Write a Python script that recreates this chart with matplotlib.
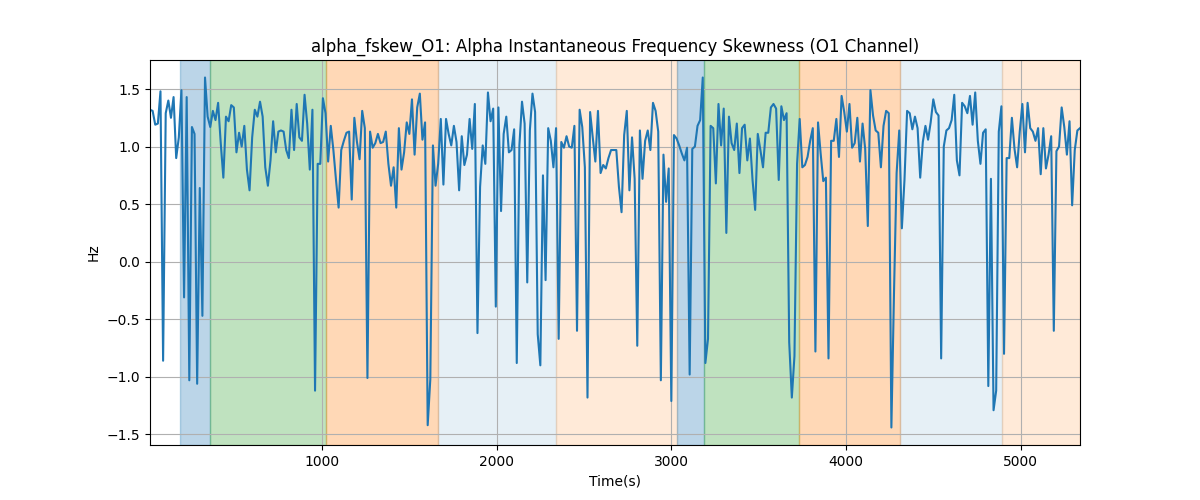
import matplotlib
matplotlib.use("Agg")
import matplotlib.pyplot as plt
import numpy as np

# sampling of the skewness series (seconds)
t_start = 15
t_step = 15

fskew = [
    1.32, 1.31, 1.19, 1.20, 1.48, -0.86, 1.29, 1.40, 1.25, 1.43,
    0.90, 1.08, 1.49, -0.31, 1.43, -1.03, 1.17, 1.11, -1.06, 0.64,
    -0.47, 1.60, 1.26, 1.17, 1.31, 1.23, 1.38, 1.03, 0.73, 1.26,
    1.22, 1.36, 1.34, 0.95, 1.12, 1.00, 1.18, 0.80, 0.62, 1.08,
    1.32, 1.26, 1.39, 1.26, 0.82, 0.66, 0.88, 1.22, 0.95, 1.13,
    1.14, 1.13, 0.97, 0.90, 1.32, 0.97, 1.37, 1.08, 1.05, 1.45,
    1.20, 0.80, 1.32, -1.12, 0.85, 0.85, 1.42, 1.29, 0.87, 1.18,
    0.97, 0.71, 0.47, 0.97, 1.05, 1.12, 1.13, 0.54, 1.25, 1.04,
    0.89, 1.31, 1.16, -1.01, 1.13, 0.99, 1.03, 1.11, 1.03, 1.04,
    1.13, 0.85, 0.66, 0.82, 0.47, 1.16,
    0.80, 0.95, 1.21, 1.11, 1.41, 0.93, 1.34, 1.46, 1.06,
    1.21, -1.42, -1.02, 1.01, 0.66, 0.85, 1.24, 0.67, 1.24, 1.11,
    1.01, 1.18, 1.04, 0.62, 1.09, 0.84, 0.93, 1.24, 0.98, 1.37,
    -0.62, 0.65, 1.01, 0.85, 1.47, 1.22, 1.33, -0.39, 1.34, 0.44,
    1.11, 1.26, 0.95, 0.97, 1.15, -0.88, 1.01, 1.39, 1.20, -0.18,
    1.14, 1.46, 1.30, -0.63, -0.90, 0.75, -0.16, 1.16, 1.05, 0.82,
    1.16, -0.67, 1.04, 0.99, 1.09, 1.00, 0.99, 1.18, -0.60, 1.32,
    1.17, 0.82, -1.18, 1.30, 1.08, 0.87, 1.31, 0.77, 0.84, 0.81,
    0.90, 0.97, 0.97, 0.97, 0.65, 0.43, 1.10, 1.31, 0.62, 1.08,
    0.72, -0.73, 1.14,
    0.72, 1.05, 1.14, 0.97, 1.38, 1.31, 1.13, -1.03, 0.93, 0.52,
    0.81, -1.21, 1.10, 1.07, 1.01, 0.94, 0.88, 0.99, -0.98, 0.98,
    1.00, 1.18, 1.23, 1.60, -0.88, -0.67, 1.18, 1.16, 0.68, 1.37,
    1.01, 1.33, 0.25, 1.26, 1.03, 0.97, 1.20, 0.77, 1.16, 1.19,
    0.88, 1.07, 0.71, 0.45, 1.11, 0.97, 0.82, 1.12, 1.12, 1.34,
    1.37, 1.33, 0.71, 1.35, 1.23, 1.29, -0.70, -1.18, -0.82, 0.85,
    1.24, 0.82, 0.84, 0.91, 1.05, 1.16, -0.78, 1.21, 0.94, 0.70,
    0.73, -0.84, 1.05, 1.05, 1.24, 0.91, 1.44, 1.30, 1.13, 1.37,
    0.99, 1.03, 1.25, 0.87, 1.20, 0.98, 0.31, 1.49, 1.27, 1.14,
    1.12,
    0.82, 1.18, 1.31, 1.29, -1.44, -0.27, 0.77, 1.14, 0.29, 0.71,
    1.31, 1.29, 1.15, 1.26, 1.16, 0.73, 1.04, 1.18, 1.06, 1.21,
    1.41, 1.30, 1.27, -0.84, 1.00, 1.14, 1.16, 1.23, 1.45, 0.88,
    0.75, 1.38, 1.35, 1.29, 1.44, 1.19, 1.47, 1.05, 0.85, 1.12,
    1.15, -1.08, 0.72, -1.29, -1.12, 1.13, 1.35, -0.80, 0.90, 0.90,
    1.25, 0.98, 0.82, 1.13, 1.37, 0.95, 1.38, 1.16, 1.13, 1.05,
    1.16, 0.76, 1.16, 0.81, 0.93, 1.09, -0.60, 0.96, 1.00, 1.34,
    1.17, 0.93, 1.22, 0.49, 0.97, 1.14, 1.16,
]

# shaded segments: boundaries in seconds and the shading used for each
seg_edges = [185, 359, 1020, 1664, 2338, 3034, 3185, 3731, 4311, 4892, 5340]
seg_colors = ["tab:blue", "tab:green", "tab:orange", "tab:blue", "tab:orange",
              "tab:blue", "tab:green", "tab:orange", "tab:blue", "tab:orange"]
seg_alphas = [0.3, 0.3, 0.3, 0.11, 0.16, 0.3, 0.3, 0.3, 0.11, 0.16]

t = t_start + t_step * np.arange(len(fskew))

fig, ax = plt.subplots(figsize=(12, 5), dpi=100)

for i in range(len(seg_colors)):
    ax.axvspan(seg_edges[i], seg_edges[i + 1], color=seg_colors[i], alpha=seg_alphas[i])

ax.plot(t, fskew, color="tab:blue", lw=1.5)
ax.set_xlim(t[0], t[-1])
ax.grid(True)
ax.set_title("alpha_fskew_O1: Alpha Instantaneous Frequency Skewness (O1 Channel)")
ax.set_xlabel("Time(s)")
ax.set_ylabel("Hz")

fig.savefig("out.png")
